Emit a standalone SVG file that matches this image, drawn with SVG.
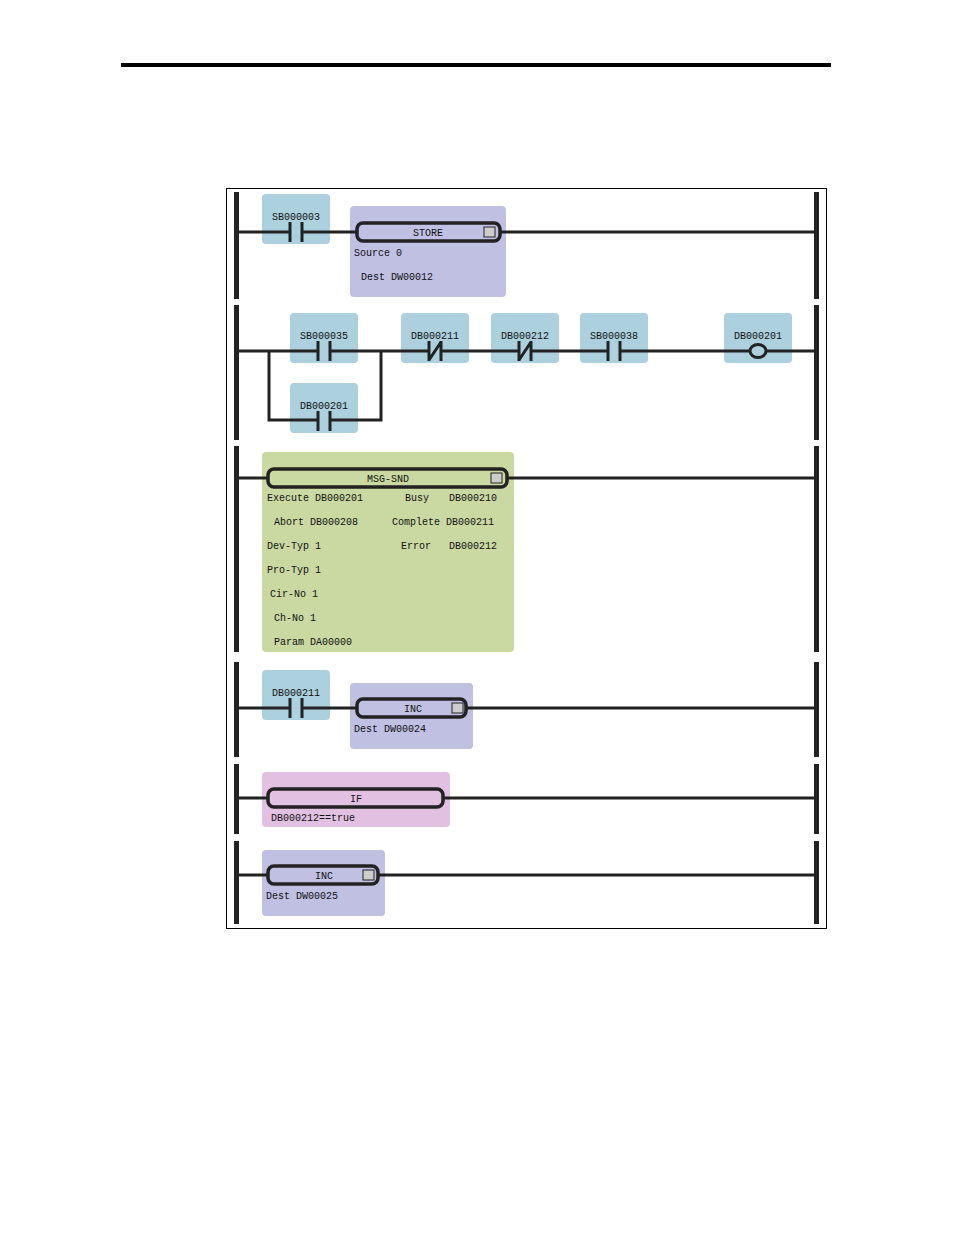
<svg xmlns="http://www.w3.org/2000/svg" width="954" height="1235" viewBox="0 0 954 1235">
<style>
text{font-family:"Liberation Mono","DejaVu Sans Mono",monospace;font-size:10px;fill:#111}
.c{text-anchor:middle}
.rail{fill:#222}
.w{stroke:#222;stroke-width:3;fill:none}
.cb{fill:#acd0de}
.lav{fill:#bfc0e2}
.grn{fill:#cad9a2}
.pnk{fill:#e2c0e2}
.fb{stroke:#222;stroke-width:3.5}
.ic{fill:#ccc;stroke:#222;stroke-width:1}
</style>
<rect x="121" y="63" width="710" height="4" fill="#000"/>
<rect x="226.5" y="188.5" width="600" height="740" fill="none" stroke="#000" stroke-width="1"/>
<g id="rails">
<rect class="rail" x="234" y="192" width="5" height="107"/><rect class="rail" x="814" y="192" width="5" height="107"/>
<rect class="rail" x="234" y="305" width="5" height="135"/><rect class="rail" x="814" y="305" width="5" height="135"/>
<rect class="rail" x="234" y="446" width="5" height="206"/><rect class="rail" x="814" y="446" width="5" height="206"/>
<rect class="rail" x="234" y="662" width="5" height="95"/><rect class="rail" x="814" y="662" width="5" height="95"/>
<rect class="rail" x="234" y="764" width="5" height="70"/><rect class="rail" x="814" y="764" width="5" height="70"/>
<rect class="rail" x="234" y="841" width="5" height="83"/><rect class="rail" x="814" y="841" width="5" height="83"/>
</g>
<g id="nodebg">
<rect class="cb" x="262" y="194" width="68" height="50" rx="4"/>
<rect class="lav" x="350" y="206" width="156" height="91" rx="4"/>
<rect class="cb" x="290" y="313" width="68" height="50" rx="4"/>
<rect class="cb" x="290" y="383" width="68" height="50" rx="4"/>
<rect class="cb" x="401" y="313" width="68" height="50" rx="4"/>
<rect class="cb" x="491" y="313" width="68" height="50" rx="4"/>
<rect class="cb" x="580" y="313" width="68" height="50" rx="4"/>
<rect class="cb" x="724" y="313" width="68" height="50" rx="4"/>
<rect class="grn" x="262" y="452" width="252" height="200" rx="4"/>
<rect class="cb" x="262" y="670" width="68" height="50" rx="4"/>
<rect class="lav" x="350" y="683" width="123" height="66" rx="4"/>
<rect class="pnk" x="262" y="772" width="188" height="55" rx="4"/>
<rect class="lav" x="262" y="850" width="123" height="66" rx="4"/>
</g>
<g id="connectors" class="w">
<path d="M239 232H290M302 232H357M500 232H814"/>
<path d="M239 351H318M330 351H428M442 351H518M532 351H608M620 351H750M766 351H814"/>
<path d="M269 351V420H318M330 420H381V351"/>
<path d="M239 478H268M507 478H814"/>
<path d="M239 708H290M302 708H357M466 708H814"/>
<path d="M239 798H268M443 798H814"/>
<path d="M239 875H268M378 875H814"/>
</g>
<g id="SB000003"><text class="c" x="296" y="220">SB000003</text><path class="w" d="M290 222V242M302 222V242"/></g>
<g id="STORE"><rect class="fb" x="357" y="223" width="143" height="18" rx="6" fill="#bfc0e2"/><text class="c" x="428" y="236">STORE</text><rect class="ic" x="484" y="227" width="11" height="10"/><text x="354" y="256">Source 0</text><text x="361" y="280">Dest  DW00012</text></g>
<g id="SB000035"><text class="c" x="324" y="339">SB000035</text><path class="w" d="M318 341V361M330 341V361"/></g>
<g id="DB000201a"><text class="c" x="324" y="409">DB000201</text><path class="w" d="M318 411V431M330 411V431"/></g>
<g id="DB000211"><text class="c" x="435" y="339">DB000211</text><path class="w" d="M429 341V361M441 341V361M429 360L441 342"/></g>
<g id="DB000212"><text class="c" x="525" y="339">DB000212</text><path class="w" d="M519 341V361M531 341V361M519 360L531 342"/></g>
<g id="SB000038"><text class="c" x="614" y="339">SB000038</text><path class="w" d="M608 341V361M620 341V361"/></g>
<g id="DB000201c"><text class="c" x="758" y="339">DB000201</text><ellipse cx="758" cy="351" rx="8" ry="6.5" fill="none" stroke="#222" stroke-width="3"/></g>
<g id="MSGSND"><rect class="fb" x="268" y="469" width="239" height="18" rx="6" fill="#cad9a2"/><text class="c" x="388" y="482">MSG-SND</text><rect class="ic" x="491" y="473" width="11" height="10"/>
<text x="267" y="501">Execute DB000201</text><text x="405" y="501">Busy</text><text x="449" y="501">DB000210</text>
<text x="274" y="525">Abort  DB000208</text><text x="392" y="525">Complete DB000211</text>
<text x="267" y="549">Dev-Typ 1</text><text x="401" y="549">Error</text><text x="449" y="549">DB000212</text>
<text x="267" y="573">Pro-Typ 1</text><text x="270" y="597">Cir-No  1</text><text x="274" y="621">Ch-No   1</text><text x="274" y="645">Param  DA00000</text></g>
<g id="DB000211b"><text class="c" x="296" y="696">DB000211</text><path class="w" d="M290 698V718M302 698V718"/></g>
<g id="INC1"><rect class="fb" x="357" y="699" width="109" height="18" rx="6" fill="#bfc0e2"/><text class="c" x="413" y="712">INC</text><rect class="ic" x="452" y="703" width="11" height="10"/><text x="354" y="732">Dest DW00024</text></g>
<g id="IF"><rect class="fb" x="268" y="789" width="175" height="18" rx="6" fill="#e2c0e2"/><text class="c" x="356" y="802">IF</text><text x="271" y="821">DB000212==true</text></g>
<g id="INC2"><rect class="fb" x="268" y="866" width="110" height="18" rx="6" fill="#bfc0e2"/><text class="c" x="324" y="879">INC</text><rect class="ic" x="363" y="870" width="11" height="10"/><text x="266" y="899">Dest DW00025</text></g>
</svg>
